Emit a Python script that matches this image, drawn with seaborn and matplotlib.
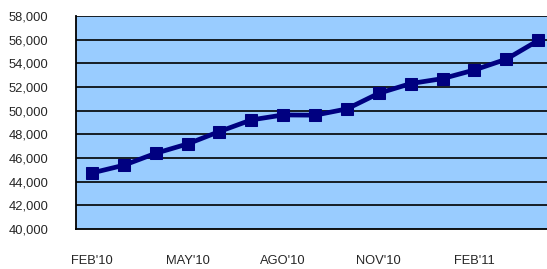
import pandas as pd
import matplotlib.pyplot as plt
import seaborn as sns

months = ["FEB'10", "MAR'10", "ABR'10", "MAY'10", "JUN'10", "JUL'10", "AGO'10",
          "SEP'10", "OCT'10", "NOV'10", "DIC'10", "ENE'11", "FEB'11", "MAR'11", "ABR'11"]
values = [44730, 45380, 46390, 47180, 48230, 49210, 49630, 49610,
          50140, 51460, 52280, 52700, 53430, 54340, 55920]
y_ticks = list(range(40000, 58001, 2000))

df = pd.DataFrame({'pos': range(len(months)), 'month': months, 'value': values})

sns.set_style('white')
plt.rcParams['font.family'] = ['Liberation Sans', 'DejaVu Sans']

fig = plt.figure(figsize=(5.47, 2.69), dpi=100)
ax = fig.add_axes([0.139, 0.149, 0.874, 0.792])
ax.set_facecolor('#99CCFF')

sns.lineplot(data=df, x='pos', y='value', ax=ax, color='#000080', linewidth=3.4,
             marker='s', markersize=8, markeredgecolor='#000080', zorder=5)

ax.set_ylim(40000, 58000)
ax.set_xlim(-0.5, len(months) - 0.5)
ax.set_yticks(y_ticks)
ax.set_yticklabels([f'{v:,}' for v in y_ticks])
ax.set_xticks(df['pos'])
ax.set_xticklabels([m if i % 3 == 0 else '' for i, m in enumerate(months)])
for v in y_ticks[1:]:
    ax.axhline(v, color='black', linewidth=1.2, zorder=2)

ax.tick_params(axis='y', length=4, width=1, color='black', labelsize=9.3, pad=16)
ax.tick_params(axis='x', length=4, width=1, color='black', labelsize=9.3, pad=15, direction='out')
ax.set_xlabel('')
ax.set_ylabel('')
for side in ['top', 'right']:
    ax.spines[side].set_visible(False)
for side in ['left', 'bottom']:
    ax.spines[side].set_color('black')
    ax.spines[side].set_linewidth(1.3)

fig.savefig('out.png', dpi=100)
